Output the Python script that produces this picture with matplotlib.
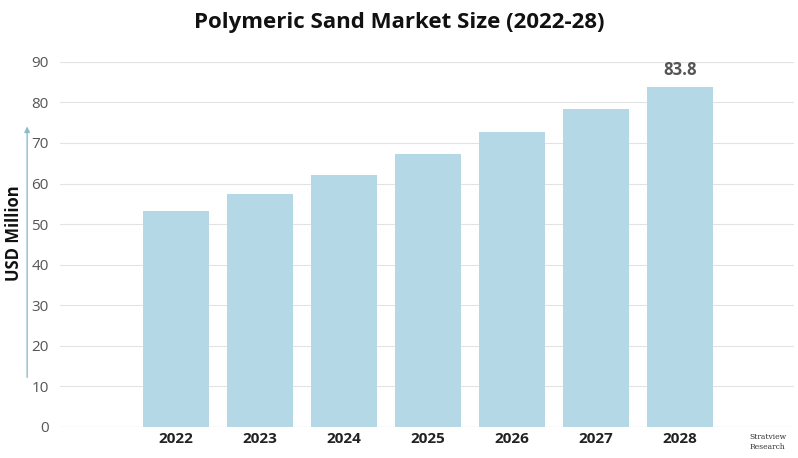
import matplotlib
matplotlib.use("Agg")
import matplotlib.pyplot as plt

years = ["2022", "2023", "2024", "2025", "2026", "2027", "2028"]
values = [53.3, 57.4, 62.1, 67.3, 72.7, 78.4, 83.8]
yticks = [0, 10, 20, 30, 40, 50, 60, 70, 80, 90]

plt.rcParams['font.family'] = ['Open Sans', 'DejaVu Sans']
fig = plt.figure(figsize=(7.98, 4.58), dpi=100)
ax = fig.add_axes([0.075, 0.068, 0.92, 0.797])
pos = list(range(1, len(years) + 1))
ax.bar(pos, values, width=0.78, color="#b4d8e5", zorder=2)
ax.set_xlim(-0.38, 8.36)
ax.set_ylim(0, 90)
ax.set_yticks(yticks)
ax.set_xticks(pos)
ax.set_xticklabels(years, fontsize=11, fontweight="bold", color="#222222")
ax.tick_params(axis='y', labelsize=11, colors="#555555", length=0, pad=8)
ax.tick_params(axis='x', length=0, pad=4)
ax.grid(axis='y', color="#e3e3e3", linewidth=0.8, zorder=0)
for s in ax.spines.values():
    s.set_visible(False)
ax.axhline(0, color="#cccccc", linewidth=0.8, zorder=1)
ax.text(pos[-1], values[-1] + 2, f"{values[-1]}", ha="center", va="bottom",
        fontsize=12, fontweight="bold", color="#555555")
fig.text(0.5, 0.95, "Polymeric Sand Market Size (2022-28)", ha="center", va="center",
         fontsize=16, fontweight="bold", color="#111111")
fig.text(0.018, 0.49, "USD Million", rotation=90, ha="center", va="center",
         fontsize=12, fontweight="bold", color="#111111")
fig.add_artist(matplotlib.patches.FancyArrowPatch((0.034, 0.17), (0.034, 0.73),
               transform=fig.transFigure, arrowstyle="-|>", mutation_scale=8,
               color="#8fbccc", linewidth=1))
fig.text(0.962, 0.035, "Stratview\nResearch", ha="center", va="center", fontsize=5.5,
         color="#333333", family="DejaVu Serif")
fig.savefig("out.png", dpi=100)
